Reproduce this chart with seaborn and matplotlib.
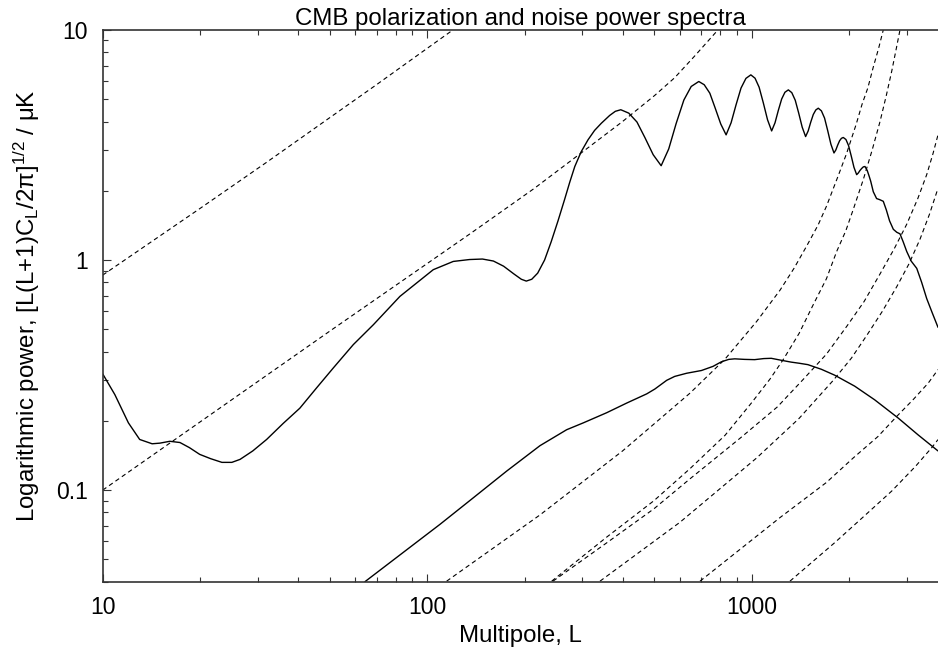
import matplotlib
matplotlib.use("Agg")
import matplotlib.pyplot as plt
from matplotlib.ticker import FuncFormatter, NullFormatter, LogLocator
import seaborn as sns

# E-mode polarization spectrum
ee_L = [10, 10.9, 12.0, 13.0, 14.2, 15.0, 16.1, 17.3, 18.5, 19.9, 21.5, 23.3, 25.0, 26.5,
        29.0, 32, 36, 40.5, 45.6, 51.4, 59.2, 68.3, 82.4, 92.8, 104.4, 120.3, 135, 148,
        160, 172, 185, 195, 202, 210, 219, 230, 241, 253, 265, 275, 285, 298, 313, 328,
        344, 365, 380, 395, 418, 443, 469, 497, 526, 555, 585, 618, 651, 687, 714, 743,
        772, 803, 834, 864, 895, 927, 960, 994, 1024, 1054, 1086, 1119, 1152, 1180, 1208,
        1237, 1266, 1297, 1329, 1362, 1396, 1431, 1466, 1493, 1520, 1548, 1576, 1604,
        1640, 1677, 1715, 1754, 1793, 1817, 1841, 1866, 1890, 1915, 1952, 1989, 2027,
        2066, 2106, 2131, 2156, 2182, 2208, 2234, 2270, 2300, 2327, 2370, 2426, 2480,
        2544, 2600, 2660, 2732, 2800, 2864, 2930, 3004, 3100, 3226, 3340, 3462, 3600, 3751]
ee_pow = [0.32, 0.26, 0.196, 0.166, 0.159, 0.160, 0.163, 0.161, 0.153, 0.143, 0.137, 0.132,
          0.132, 0.136, 0.148, 0.166, 0.195, 0.227, 0.278, 0.34, 0.429, 0.524, 0.695, 0.795,
          0.908, 0.986, 1.005, 1.01, 0.99, 0.94, 0.87, 0.825, 0.81, 0.825, 0.877, 1.0, 1.2,
          1.48, 1.83, 2.18, 2.55, 2.95, 3.33, 3.66, 3.93, 4.25, 4.43, 4.50, 4.35, 3.98, 3.40,
          2.87, 2.57, 3.04, 3.92, 4.96, 5.68, 5.97, 5.78, 5.31, 4.57, 3.90, 3.50, 3.95, 4.73,
          5.59, 6.16, 6.38, 6.17, 5.64, 4.82, 4.07, 3.64, 3.95, 4.47, 5.01, 5.36, 5.49, 5.34,
          4.95, 4.35, 3.78, 3.44, 3.64, 3.97, 4.29, 4.49, 4.57, 4.45, 4.14, 3.65, 3.19, 2.92,
          3.01, 3.16, 3.30, 3.38, 3.41, 3.34, 3.14, 2.83, 2.53, 2.35, 2.39, 2.45, 2.50, 2.54,
          2.55, 2.45, 2.32, 2.20, 1.98, 1.85, 1.83, 1.80, 1.65, 1.48, 1.36, 1.32, 1.30, 1.20,
          1.09, 0.99, 0.92, 0.80, 0.68, 0.59, 0.51]

# B-mode polarization spectrum
bb_L = [64.3, 109.5, 138.7, 175.8, 222.6, 269, 302.7, 357.5, 412, 474.8, 503, 547, 579,
        630, 700, 760, 806, 850, 887, 950, 1021, 1090, 1149, 1230, 1323, 1400, 1490, 1640,
        1801, 2077, 2392, 2824, 3254, 3751]
bb_pow = [0.040, 0.071, 0.0926, 0.121, 0.156, 0.183, 0.196, 0.217, 0.239, 0.262, 0.275,
          0.300, 0.312, 0.322, 0.331, 0.345, 0.361, 0.370, 0.372, 0.370, 0.369, 0.373,
          0.374, 0.367, 0.360, 0.356, 0.351, 0.335, 0.316, 0.283, 0.247, 0.206, 0.174,
          0.148]

# noise power spectra (dashed)
noise1_L = [10, 20, 32, 50, 70, 95, 120]
noise1_pow = [0.86, 1.68, 2.66, 4.15, 5.8, 7.9, 10.0]

noise2_L = [10, 50, 135.5, 214, 302, 400, 503, 579, 667, 787]
noise2_pow = [0.1, 0.49, 1.3, 2.05, 2.96, 4.0, 5.2, 6.2, 7.7, 10.0]

noise3_L = [114.8, 222.6, 400, 645.6, 827.5, 1036, 1223, 1350, 1477, 1602, 1702, 1849,
            1960, 2100, 2188, 2280, 2370, 2460, 2544]
noise3_pow = [0.0402, 0.078, 0.148, 0.264, 0.371, 0.541, 0.74, 0.92, 1.15, 1.42, 1.72, 2.33,
              2.9, 3.9, 4.75, 5.6, 6.9, 8.3, 10.0]

noise4_L = [241.9, 357.5, 500, 645.6, 827.5, 1000, 1139, 1252, 1400, 1548, 1700, 1828,
            1950, 2056, 2208, 2350, 2486, 2600, 2700, 2790, 2864]
noise4_pow = [0.0402, 0.0625, 0.090, 0.124, 0.173, 0.24, 0.304, 0.37, 0.48, 0.64, 0.83,
              1.09, 1.34, 1.66, 2.24, 3.0, 4.0, 5.2, 6.6, 8.3, 10.0]

noise5_L = [244.1, 357.5, 500, 645.6, 920.4, 1200, 1442, 1700, 1963, 2220, 2486, 2750,
            3004, 3250, 3462, 3620, 3751]
noise5_pow = [0.0402, 0.059, 0.083, 0.112, 0.168, 0.23, 0.303, 0.39, 0.515, 0.66, 0.87,
              1.12, 1.43, 1.85, 2.35, 2.9, 3.5]

noise6_L = [340.8, 601.2, 1036, 1400, 1784, 2030, 2262, 2530, 2798, 3050, 3300, 3530, 3751]
noise6_pow = [0.0402, 0.0725, 0.138, 0.205, 0.30, 0.375, 0.47, 0.60, 0.765, 0.96, 1.23,
              1.58, 2.05]

noise7_L = [693, 1223, 1700, 2056, 2450, 2798, 3150, 3501, 3751]
noise7_pow = [0.0402, 0.076, 0.108, 0.138, 0.171, 0.209, 0.248, 0.292, 0.334]

noise8_L = [1312, 1800, 2208, 2700, 3200, 3589, 3751]
noise8_pow = [0.0402, 0.059, 0.0765, 0.099, 0.127, 0.153, 0.1658]

noise_curves = [(noise1_L, noise1_pow), (noise2_L, noise2_pow), (noise3_L, noise3_pow),
                (noise4_L, noise4_pow), (noise5_L, noise5_pow), (noise6_L, noise6_pow),
                (noise7_L, noise7_pow), (noise8_L, noise8_pow)]

sns.set_style("ticks")
plt.rcParams["font.family"] = ["Liberation Sans", "DejaVu Sans"]
plt.rcParams["mathtext.default"] = "regular"
plt.rcParams["text.color"] = "black"
plt.rcParams["axes.labelcolor"] = "black"
plt.rcParams["xtick.labelcolor"] = "black"
plt.rcParams["ytick.labelcolor"] = "black"

fig = plt.figure(figsize=(9.38, 6.54), dpi=100)
ax = fig.add_axes([0.1095, 0.1106, 0.8905, 0.8436])
ax.set_xscale("log")
ax.set_yscale("log")

for nl, npow in noise_curves:
    sns.lineplot(x=nl, y=npow, ax=ax, color="black", lw=0.8, linestyle=(0, (4, 3)),
                 estimator=None, sort=False)

sns.lineplot(x=ee_L, y=ee_pow, ax=ax, color="black", lw=1.0, estimator=None, sort=False)
sns.lineplot(x=bb_L, y=bb_pow, ax=ax, color="black", lw=1.0, estimator=None, sort=False)

ax.set_xlim(10, 3751)
ax.set_ylim(0.04, 10)

fmt = FuncFormatter(lambda v, _: f"{v:g}")
ax.xaxis.set_major_formatter(fmt)
ax.yaxis.set_major_formatter(fmt)
ax.xaxis.set_minor_formatter(NullFormatter())
ax.yaxis.set_minor_formatter(NullFormatter())
ax.xaxis.set_minor_locator(LogLocator(base=10, subs=range(2, 10)))
ax.yaxis.set_minor_locator(LogLocator(base=10, subs=range(2, 10)))

ax.spines["right"].set_visible(False)
for s in ["left", "bottom", "top"]:
    ax.spines[s].set_color("#333333")
    ax.spines[s].set_linewidth(1.2)
ax.tick_params(which="both", direction="in", top=True, right=False, width=0.8,
               color="#333333", labelsize=16.5, pad=10.5)
ax.tick_params(which="major", length=6)
ax.tick_params(which="minor", length=3.5)

ax.set_title("CMB polarization and noise power spectra", fontsize=17.3, pad=2)
ax.set_xlabel("Multipole, L", fontsize=17.3, labelpad=4)
ax.set_ylabel("Logarithmic power, [L(L+1)C$_L$/2π]$^{1/2}$ / μK", fontsize=17.3, labelpad=10)

fig.savefig("out.png", dpi=100)
